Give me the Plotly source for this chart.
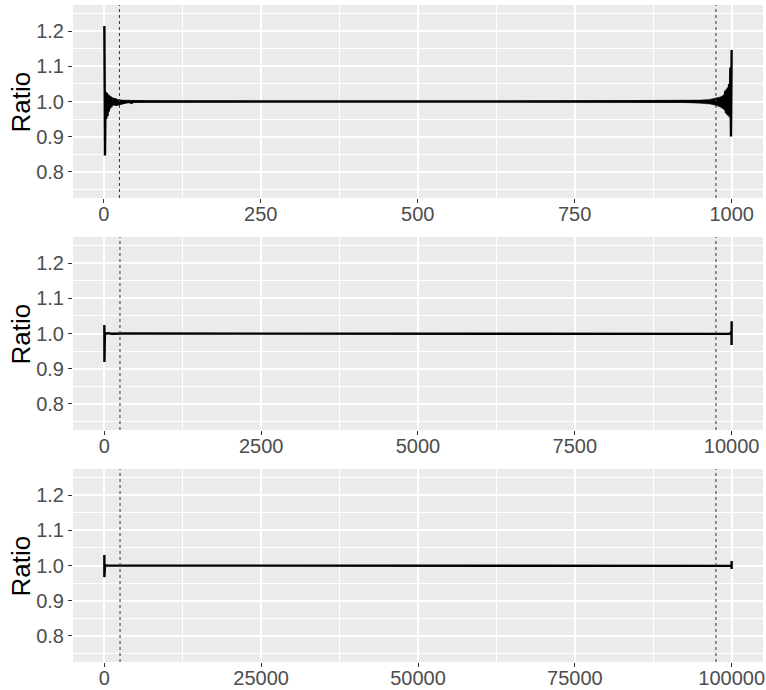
import plotly.graph_objects as go

# ---------------- data ----------------
# panel 1 (n = 1000): main line
x1 = [1, 2, 3, 4, 5, 6, 7, 8, 9, 10, 11, 12, 14, 16, 18, 20, 40, 44, 48, 100, 900, 988,
      990, 991, 992, 993, 994, 995, 996, 997, 998, 999, 1000]
y1 = [1.215, 0.846, 1.028, 0.950, 1.024, 0.958, 1.020, 0.972, 1.016, 0.980, 1.014, 0.984,
      1.011, 0.989, 1.009, 0.991, 1.000, 0.996, 1.000, 1.000, 1.000, 1.000,
      1.030, 0.967, 1.035, 0.962, 1.040, 0.960, 1.050, 0.955, 1.097, 0.900, 1.147]
# panel 1: noise envelope around the line
env_x1 = [8, 12, 16, 20, 25, 30, 40, 50, 70, 100, 150, 250, 650, 750, 830, 880, 920, 950,
          965, 975, 982, 988, 992, 996]
env_hi1 = [1.018, 1.011, 1.008, 1.006, 1.005, 1.004, 1.003, 1.0025, 1.002, 1.0015, 1.001,
           1.0005, 1.0005, 1.001, 1.0015, 1.002, 1.0025, 1.004, 1.006, 1.009, 1.013, 1.019,
           1.026, 1.040]
env_lo1 = [0.975, 0.986, 0.991, 0.993, 0.995, 0.996, 0.996, 0.9975, 0.998, 0.9985, 0.999,
           0.9995, 0.9995, 0.999, 0.9985, 0.998, 0.9975, 0.995, 0.993, 0.989, 0.984, 0.977,
           0.970, 0.960]

x2 = [1, 2, 3, 4, 6, 9, 14, 25, 50, 120, 300, 9700, 9900, 9960, 9990, 9997, 9998, 9999, 10000]
y2 = [1.024, 0.919, 1.008, 0.992, 1.004, 0.997, 1.002, 0.999, 1.001, 0.9995, 1.000, 1.000,
      1.0005, 0.999, 1.002, 0.997, 1.006, 0.967, 1.035]

x3 = [1, 2, 3, 5, 10, 30, 100, 500, 99500, 99900, 99990, 99999, 100000]
y3 = [1.030, 0.967, 1.004, 0.997, 1.001, 0.999, 1.0005, 1.000, 1.000, 0.999, 1.002, 0.990,
      1.013]

vlines1 = [25, 975]
vlines2 = [250, 9750]
vlines3 = [2500, 97500]

xticks1 = [0, 250, 500, 750, 1000]
xticks2 = [0, 2500, 5000, 7500, 10000]
xticks3 = [0, 25000, 50000, 75000, 100000]
xticklabels1 = ["0", "250", "500", "750", "1000"]
xticklabels2 = ["0", "2500", "5000", "7500", "10000"]
xticklabels3 = ["0", "25000", "50000", "75000", "100000"]
yticks = [0.8, 0.9, 1.0, 1.1, 1.2]
yticklabels = ["0.8", "0.9", "1.0", "1.1", "1.2"]
ytitle = "Ratio"

# ---------------- figure ----------------
FONT = "Liberation Sans, Arial, Helvetica, sans-serif"
fig = go.Figure()

# noise band for panel 1
fig.add_trace(go.Scatter(x=env_x1, y=env_hi1, mode="lines", line=dict(color="black", width=0.5),
                         xaxis="x", yaxis="y", hoverinfo="skip"))
fig.add_trace(go.Scatter(x=env_x1, y=env_lo1, mode="lines", line=dict(color="black", width=0.5),
                         fill="tonexty", fillcolor="black",
                         xaxis="x", yaxis="y", hoverinfo="skip"))

panels = [
    (x1, y1, vlines1, xticks1, xticklabels1, 1000),
    (x2, y2, vlines2, xticks2, xticklabels2, 10000),
    (x3, y3, vlines3, xticks3, xticklabels3, 100000),
]
# plot region: y from 5 to 662 px (657 px tall), x from 73 to 763 px
H = 657.0
W = 690.0
def frac(top, bottom):
    return [(662 - bottom) / H, (662 - top) / H]
domains = [frac(5, 198), frac(237, 430), frac(469, 662)]

layout = dict(
    width=766, height=690,
    margin=dict(l=73, r=3, t=5, b=28),
    paper_bgcolor="white",
    showlegend=False,
    font=dict(family=FONT),
    shapes=[],
    annotations=[],
)

for i, (xs, ys, vl, xt, xtl, n) in enumerate(panels):
    k = "" if i == 0 else str(i + 1)
    fig.add_trace(go.Scatter(x=xs, y=ys, mode="lines",
                             line=dict(color="black", width=2.4),
                             xaxis="x" + k, yaxis="y" + k, hoverinfo="skip"))
    pad = (n - 1) * 0.05
    minor_x = [(xt[j] + xt[j + 1]) / 2 for j in range(len(xt) - 1)]
    layout["xaxis" + k] = dict(
        domain=[0, 1], anchor="y" + k, automargin=False,
        range=[1 - pad, n + pad],
        tickvals=xt, ticktext=xtl,
        ticks="outside", ticklen=4, tickwidth=1, tickcolor="#333333",
        ticklabelstandoff=-6,
        tickfont=dict(size=20, color="#4D4D4D", family=FONT),
        showgrid=True, gridcolor="white", gridwidth=1.6,
        minor=dict(tickvals=minor_x, showgrid=True, gridcolor="white", gridwidth=0.8, ticks=""),
        zeroline=False, showline=False,
    )
    layout["yaxis" + k] = dict(
        domain=domains[i], anchor="x" + k, automargin=False,
        range=[0.725, 1.275],
        tickvals=yticks, ticktext=yticklabels,
        ticks="outside", ticklen=4, tickwidth=1, tickcolor="#333333",
        tickfont=dict(size=20, color="#4D4D4D", family=FONT),
        showgrid=True, gridcolor="white", gridwidth=1.6,
        minor=dict(tickvals=[0.75, 0.85, 0.95, 1.05, 1.15, 1.25], showgrid=True,
                   gridcolor="white", gridwidth=0.8, ticks=""),
        zeroline=False, showline=False,
    )
    layout["annotations"].append(dict(
        text=ytitle, textangle=-90, showarrow=False,
        xref="paper", yref="paper",
        x=(20 - 73) / W, y=(domains[i][0] + domains[i][1]) / 2,
        xanchor="center", yanchor="middle",
        font=dict(size=26, color="black", family=FONT),
    ))
    # panel background
    layout["shapes"].append(dict(type="rect", xref="x" + k + " domain", yref="y" + k + " domain",
                                 x0=0, x1=1, y0=0, y1=1, fillcolor="#EBEBEB",
                                 line=dict(width=0), layer="below"))
    for v in vl:
        layout["shapes"].append(dict(type="line", xref="x" + k, yref="y" + k + " domain",
                                     x0=v, x1=v, y0=0, y1=1,
                                     line=dict(color="#333333", width=1, dash="dot"),
                                     layer="above"))

fig.update_layout(**layout)
fig.write_html("out.html", config={"displayModeBar": False},
               post_script="document.body.style.margin='0px';")
